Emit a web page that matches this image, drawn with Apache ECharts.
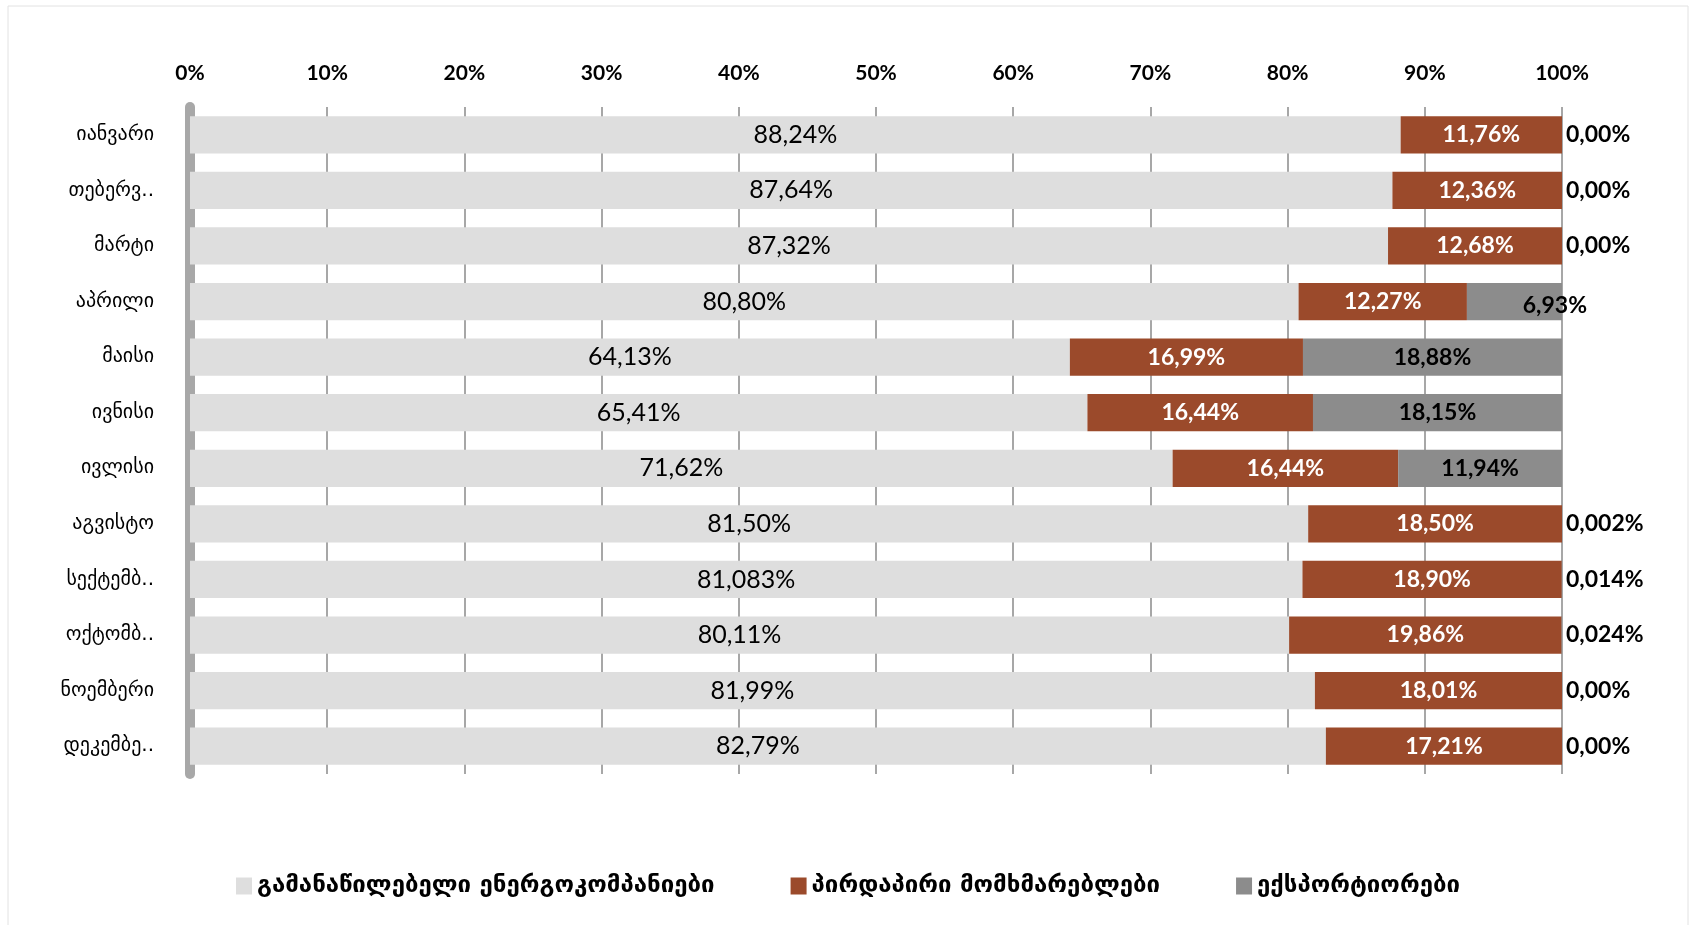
<!DOCTYPE html>
<html>
<head>
<meta charset="utf-8">
<script src="https://cdn.jsdelivr.net/npm/echarts@6/dist/echarts.min.js"></script>
<style>
html,body{margin:0;padding:0;background:#fff;}
#chart{width:1696px;height:925px;}
</style>
</head>
<body>
<div id="chart"></div>
<script>
const categories = ['იანვარი','თებერვ..','მარტი','აპრილი','მაისი','ივნისი','ივლისი','აგვისტო','სექტემბ..','ოქტომბ..','ნოემბერი','დეკემბე..'];
const seriesNames = ['გამანაწილებელი ენერგოკომპანიები','პირდაპირი მომხმარებლები','ექსპორტიორები'];
const distribution = [88.24, 87.64, 87.32, 80.80, 64.13, 65.41, 71.62, 81.50, 81.083, 80.11, 81.99, 82.79];
const directConsumers = [11.76, 12.36, 12.68, 12.27, 16.99, 16.44, 16.44, 18.50, 18.90, 19.86, 18.01, 17.21];
const exporters = [0, 0, 0, 6.93, 18.88, 18.15, 11.94, 0.002, 0.014, 0.024, 0, 0];
const tickLabels = ['0%','10%','20%','30%','40%','50%','60%','70%','80%','90%','100%'];

function fmt(v){
  const s = String(v);
  const dec = s.includes('.') ? s.split('.')[1].length : 0;
  const t = dec > 2 ? s : v.toFixed(2);
  return t.replace('.', ',') + '%';
}

const numFont = 'Lato, "Open Sans", "Liberation Sans", sans-serif';
const geoFont = '"DejaVu Sans", sans-serif';
const colors = ['#dedede', '#9b4a2b', '#8c8c8c'];

const chart = echarts.init(document.getElementById('chart'));
chart.setOption({
  animation: false,
  backgroundColor: '#fff',
  color: colors,
  graphic: [{
    type: 'rect', shape: {x: 8, y: 6, width: 1680, height: 930},
    style: {fill: 'none', stroke: '#e2e2e2', lineWidth: 1}, silent: true, z: -10
  }],
  grid: {left: 190, right: 134, top: 107, bottom: 151},
  legend: {
    bottom: 22, left: 'center',
    itemWidth: 16, itemHeight: 17, itemGap: 76,
    icon: 'rect',
    textStyle: {fontFamily: geoFont, fontWeight: 'bold', fontSize: 24, color: '#000'},
    data: seriesNames
  },
  xAxis: {
    type: 'value', position: 'top', min: 0, max: 100, interval: 10,
    axisLabel: {
      margin: 23, fontFamily: numFont, fontWeight: 'bold', fontSize: 21, color: '#000',
      formatter: (v) => tickLabels[Math.round(v / 10)]
    },
    axisLine: {show: false}, axisTick: {show: false},
    splitLine: {show: true, lineStyle: {color: '#8a8a8a', width: 1.5}}
  },
  yAxis: {
    type: 'category', inverse: true, data: categories,
    axisLabel: {margin: 36, fontFamily: geoFont, fontSize: 20, color: '#000'},
    axisLine: {show: true, lineStyle: {color: '#a8a8a8', width: 10}},
    axisTick: {show: false}
  },
  series: [
    {
      name: seriesNames[0], type: 'bar', stack: 'total', barCategoryGap: '33%',
      data: distribution,
      itemStyle: {color: colors[0]},
      label: {show: true, position: 'inside', fontFamily: numFont, fontSize: 25, color: '#000',
        formatter: (p) => fmt(p.value)}
    },
    {
      name: seriesNames[1], type: 'bar', stack: 'total',
      data: directConsumers,
      itemStyle: {color: colors[1]},
      label: {show: true, position: 'inside', fontFamily: numFont, fontWeight: 'bold', fontSize: 23, color: '#fff',
        formatter: (p) => fmt(p.value)}
    },
    {
      name: seriesNames[2], type: 'bar', stack: 'total',
      data: exporters.map(v => ({
        value: v,
        label: v < 1 ? {position: 'right', distance: 4} : (v < 10 ? {position: 'insideRight', offset: [30, 4]} : {position: 'inside'})
      })),
      itemStyle: {color: colors[2]},
      label: {show: true, fontFamily: numFont, fontWeight: 'bold', fontSize: 23, color: '#000',
        formatter: (p) => fmt(p.value)}
    }
  ]
});
</script>
</body>
</html>
